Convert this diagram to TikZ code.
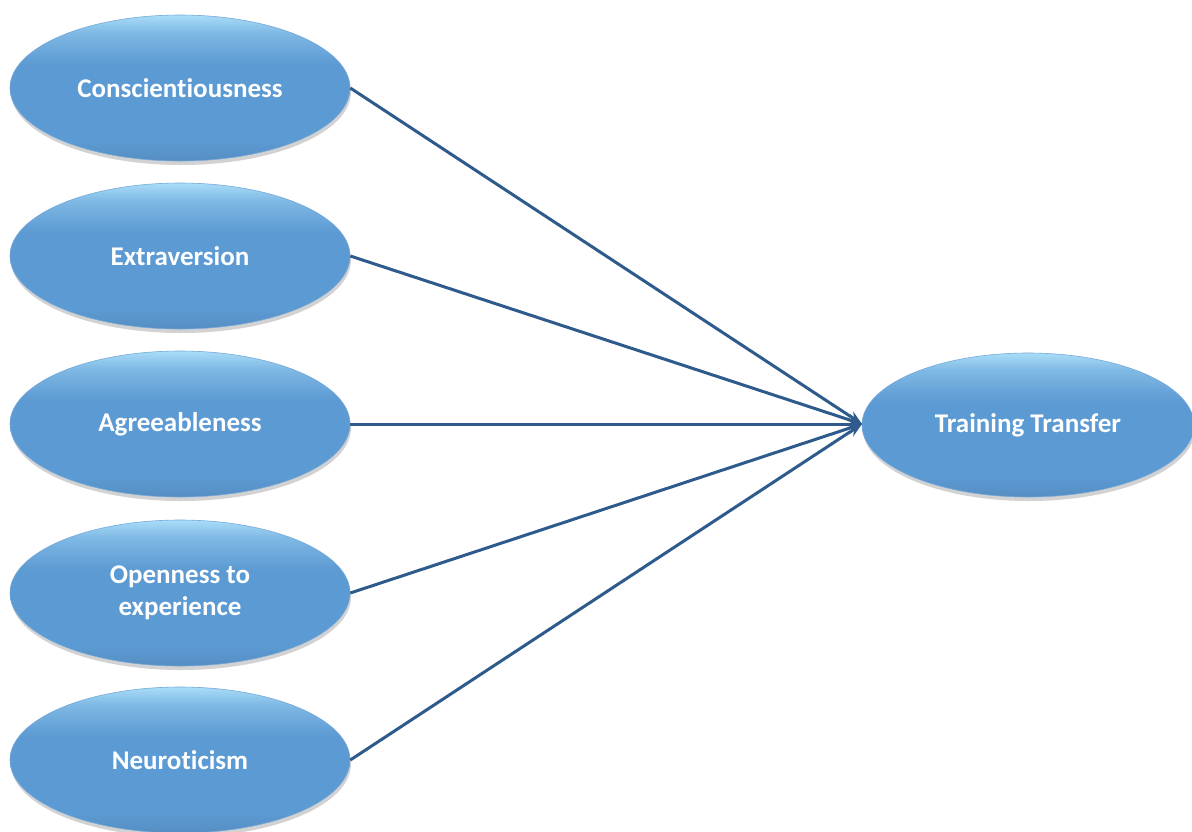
\documentclass[tikz,border=0pt]{standalone}
\usepackage{fontspec}
\setmainfont{Carlito}[Ligatures=NoCommon]
\usetikzlibrary{shapes.geometric,arrows.meta,shadows}
\definecolor{ellbase}{HTML}{5C9AD3}
\definecolor{elltop}{HTML}{A9DDF8}
\definecolor{linecol}{HTML}{2E5A8C}
\pgfdeclareverticalshading{ellshade}{100bp}{
  color(0bp)=(ellbase!92!black); color(25bp)=(ellbase!92!black);
  color(32bp)=(ellbase); color(58bp)=(ellbase);
  color(69bp)=(ellbase!55!elltop); color(75bp)=(elltop); color(100bp)=(elltop)}
\tikzset{
  trait/.style={ellipse, minimum width=340pt, minimum height=146pt, inner sep=0pt,
    shading=ellshade,
    draw=ellbase!85!white, line width=0.6pt,
    drop shadow={shadow xshift=1pt, shadow yshift=-4pt, opacity=0.25, fill=black!70},
    text=white, font=\fontsize{27}{32}\selectfont\bfseries, align=center},
  link/.style={draw=linecol, line width=3pt, -{Stealth[length=14pt,width=11pt]}}
}
\begin{document}
\begin{tikzpicture}[x=1pt,y=-1pt]
\useasboundingbox[fill=white] (0,0) rectangle (1192,831);
\node[trait] (c) at (180,88) {Conscientiousness};
\node[trait] (e) at (180,256) {Extraversion};
\node[trait] (a) at (180,424) {Agreeableness};
\node[trait] (o) at (180,593) {Openness to\\experience};
\node[trait] (n) at (180,760) {Neuroticism};
\node[trait, minimum width=332pt, minimum height=144pt] (t) at (1028,425) {Training Transfer};
\coordinate (tip) at (862,424);
\foreach \s in {c,e,a,o,n} {
  \draw[link] (\s.east) -- (tip);
}
\end{tikzpicture}
\end{document}
